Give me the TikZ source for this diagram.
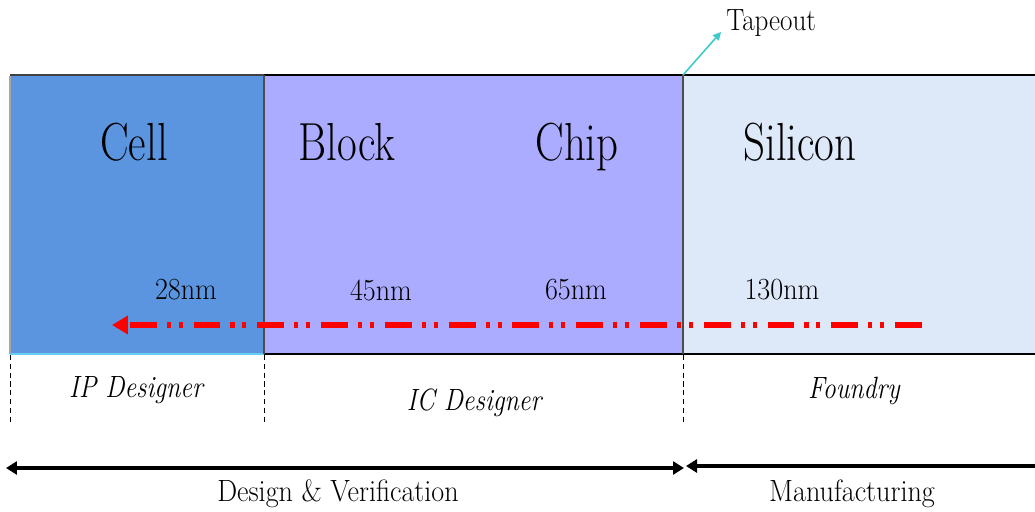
\documentclass[tikz,border=0pt]{standalone}
\usepackage{tikz}
\usetikzlibrary{arrows.meta}
\definecolor{cellblue}{HTML}{5B95E0}
\definecolor{chipviolet}{HTML}{ABABFF}
\definecolor{siliconblue}{HTML}{DDE8F8}
\definecolor{tapecyan}{HTML}{3CCACA}
\tikzstyle{big} = [inner sep=0pt, anchor=base, xscale=0.8, font=\fontsize{30.5}{36}\selectfont]
\tikzstyle{small} = [inner sep=0pt, xscale=0.88, font=\fontsize{17.5}{21}\selectfont]
\tikzstyle{role} = [small, xscale=0.96, font=\fontsize{17.5}{21}\selectfont\itshape]
\tikzstyle{phase} = [draw, line width=2.3pt, {Triangle[length=2.2mm,width=2.6mm]}-{Triangle[length=2.2mm,width=2.6mm]}]
\tikzstyle{bound} = [draw, dashed, line width=0.5pt, dash pattern=on 3pt off 2pt]

\begin{document}
\begin{tikzpicture}[x=0.02cm, y=-0.02cm]
    \useasboundingbox (0,0) rectangle (1035,511);
    % the three stages
    \fill [cellblue] (10,75) rectangle (264,354);
    \fill [chipviolet] (264,75) rectangle (683,354);
    \fill [siliconblue] (683,75) rectangle (1035,354);
    \draw [gray!70, line width=1pt] (10,76) -- (10,354);
    \draw [black!75, line width=1.2pt] (10,75) -- (264,75);
    \draw [cyan!60!white, line width=1.2pt] (10,354) -- (264,354);
    \draw [black, line width=1.2pt] (264,75) -- (1035,75);
    \draw [black, line width=1.6pt] (264,354) -- (1035,354);
    \draw [black!70, line width=1pt] (264,75) -- (264,354);
    \draw [black!70, line width=1pt] (683,75) -- (683,354);
    \node [big] (cell) at (134,160) {Cell};
    \node [big] (block) at (347,160) {Block};
    \node [big] (chip) at (577,160) {Chip};
    \node [big] (silicon) at (800,160) {Silicon};
    \node [small, xscale=1.04] (n28) at (186,290) {28nm};
    \node [small, xscale=1.04] (n45) at (381,290) {45nm};
    \node [small, xscale=1.04] (n65) at (576,290) {65nm};
    \node [small, xscale=1.04] (n130) at (782,290) {130nm};
    % scaling trend
    \coordinate (trendstart) at (922,325);
    \coordinate (trendend) at (112,325);
    \draw [red, line width=3.4pt, dash pattern=on 15.3pt off 6.2pt on 2.3pt off 4.5pt on 2.3pt off 5.7pt,
           -{Triangle[length=3.2mm,width=3.6mm]}] (trendstart) -- (trendend);
    % tapeout marker
    \coordinate (tape) at (683,75);
    \node [small, anchor=west] (tapeout) at (726,23) {Tapeout};
    \draw [tapecyan, line width=0.9pt, -{Triangle[length=1.6mm,width=1.6mm]}] (tape) -- (721,32);
    % who does what
    \foreach \x/\n in {10/b0, 264/b1, 683/b2} {
        \coordinate (\n top) at (\x,355);
        \coordinate (\n bot) at (\x,423);
        \path [bound] (\n top) -- (\n bot);
    }
    \node [role] (ip) at (136,390) {IP Designer};
    \node [role] (ic) at (474,403) {IC Designer};
    \node [role] (foundry) at (854,391) {Foundry};
    % phases
    \coordinate (dvleft) at (6,468);
    \coordinate (dvright) at (684,468);
    \coordinate (mfleft) at (686,466);
    \coordinate (mfright) at (1040,466);
    \path [phase] (dvleft) -- (dvright);
    \draw [line width=2.3pt, {Triangle[length=2.2mm,width=2.6mm]}-] (mfleft) -- (mfright);
    \node [small, xscale=1.04] (dv) at (338,494) {Design \& Verification};
    \node [small, xscale=1.04] (mf) at (852,494) {Manufacturing};
\end{tikzpicture}
\end{document}
